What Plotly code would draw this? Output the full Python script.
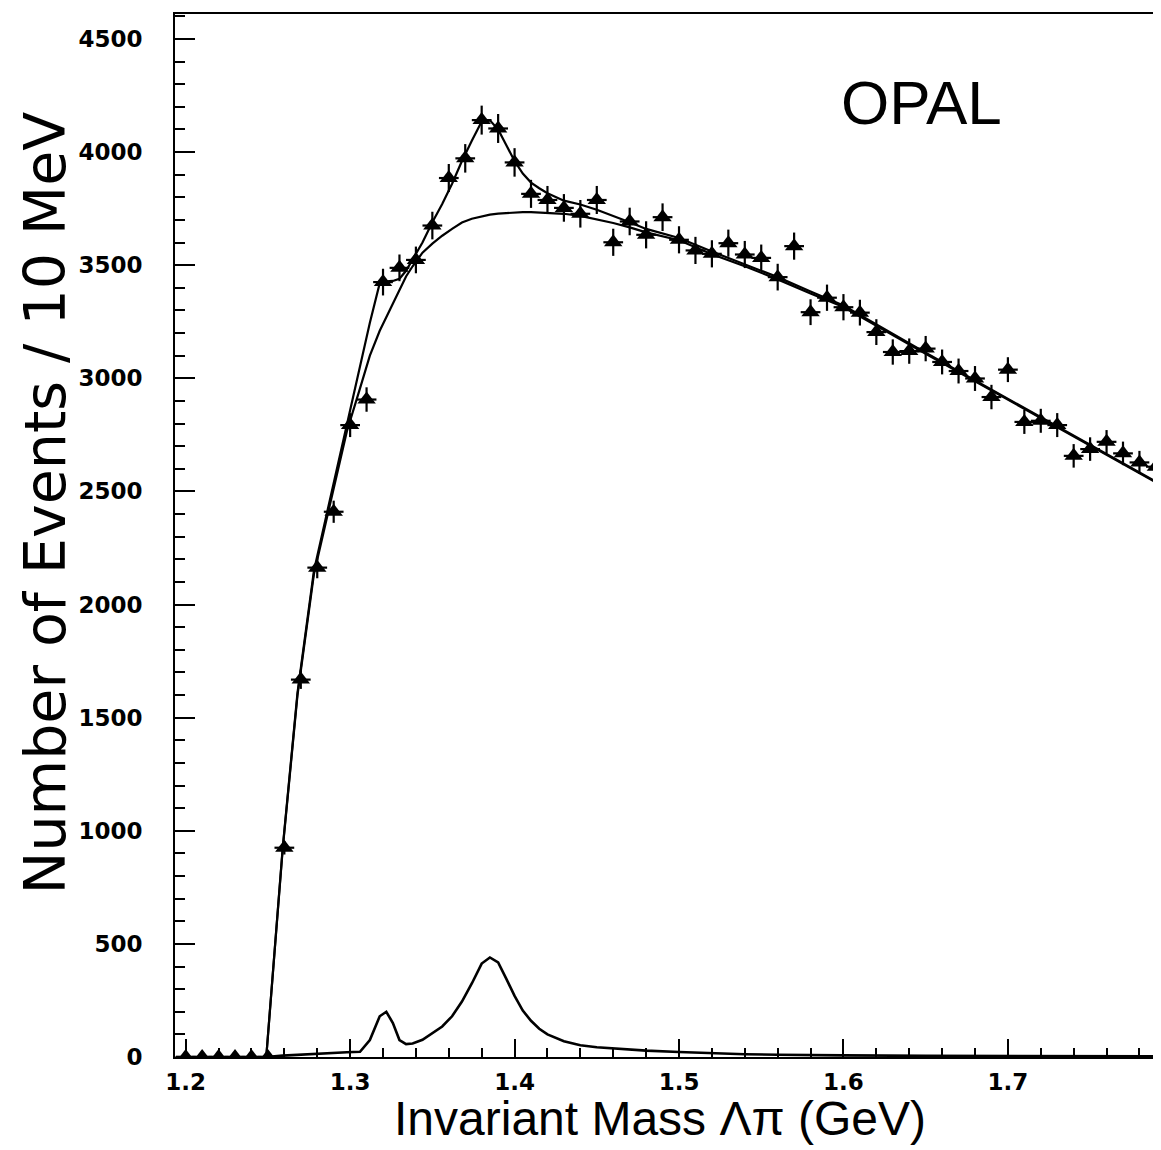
import plotly.graph_objects as go

# measured spectrum (bin centres, events / 10 MeV)
mass = [1.20, 1.21, 1.22, 1.23, 1.24, 1.25, 1.26, 1.27, 1.28, 1.29,
        1.30, 1.31, 1.32, 1.33, 1.34, 1.35, 1.36, 1.37, 1.38, 1.39,
        1.40, 1.41, 1.42, 1.43, 1.44, 1.45, 1.46, 1.47, 1.48, 1.49,
        1.50, 1.51, 1.52, 1.53, 1.54, 1.55, 1.56, 1.57, 1.58, 1.59,
        1.60, 1.61, 1.62, 1.63, 1.64, 1.65, 1.66, 1.67, 1.68, 1.69,
        1.70, 1.71, 1.72, 1.73, 1.74, 1.75, 1.76, 1.77, 1.78, 1.79]
events = [0, 0, 0, 0, 0, 0, 925, 1668, 2163, 2410,
          2793, 2906, 3425, 3488, 3523, 3675, 3885, 3972, 4141, 4104,
          3954, 3815, 3788, 3753, 3727, 3788, 3601, 3693, 3634, 3712,
          3612, 3565, 3550, 3597, 3547, 3532, 3447, 3584, 3292, 3356,
          3314, 3290, 3204, 3116, 3120, 3131, 3072, 3032, 2999, 2917,
          3038, 2807, 2812, 2793, 2657, 2687, 2719, 2668, 2628, 2609]
errors = [0, 0, 0, 0, 0, 0, 30, 41, 47, 49,
          53, 54, 59, 59, 59, 61, 62, 63, 64, 64,
          63, 62, 62, 61, 61, 62, 60, 61, 60, 61,
          60, 60, 60, 60, 60, 59, 59, 60, 57, 58,
          58, 57, 57, 56, 56, 56, 55, 55, 55, 54,
          55, 53, 53, 53, 52, 52, 52, 52, 51, 51]

# fit curves
curve_x = [1.194, 1.249, 1.259, 1.268, 1.278, 1.288, 1.298, 1.306, 1.312, 1.318,
           1.322, 1.326, 1.330, 1.334, 1.338, 1.344, 1.350, 1.356, 1.362, 1.368,
           1.374, 1.380, 1.385, 1.390, 1.395, 1.400, 1.405, 1.410, 1.415, 1.420,
           1.430, 1.440, 1.450, 1.460, 1.470, 1.480, 1.500, 1.520, 1.540, 1.560,
           1.580, 1.600, 1.650, 1.700, 1.750, 1.790]
total_fit = [0, 0, 925, 1610, 2150, 2470, 2790, 3060, 3245, 3420,
             3428, 3430, 3440, 3475, 3525, 3600, 3690, 3770, 3860, 3960,
             4050, 4135, 4140, 4100, 4030, 3960, 3905, 3865, 3840, 3818,
             3785, 3768, 3745, 3718, 3690, 3660, 3620, 3560, 3505, 3447,
             3383, 3322, 3113, 2909, 2703, 2543]
background_fit = [0, 0, 920, 1600, 2135, 2455, 2765, 2955, 3100, 3210,
                  3270, 3330, 3395, 3450, 3495, 3555, 3595, 3630, 3660, 3688,
                  3705, 3716, 3723, 3728, 3731, 3733, 3734, 3734, 3733, 3731,
                  3727, 3718, 3703, 3686, 3667, 3645, 3610, 3548, 3495, 3437,
                  3375, 3315, 3108, 2905, 2700, 2540]
signal_fit = [0, 0, 6, 10, 14, 18, 21, 23, 75, 180,
              200, 150, 75, 57, 60, 76, 105, 135, 180, 245,
              325, 413, 440, 418, 345, 270, 205, 160, 125, 100,
              70, 52, 43, 37, 32, 28, 22, 16, 12, 10,
              8, 7, 5, 4, 3, 3]

black = '#000000'
fig = go.Figure()

for ys, w in [(background_fit, 2.2), (total_fit, 2.2), (signal_fit, 2.6)]:
    fig.add_trace(go.Scatter(x=curve_x, y=ys, mode='lines',
                             line=dict(color=black, width=w), hoverinfo='skip'))

fig.add_trace(go.Scatter(
    x=mass, y=events, mode='markers',
    marker=dict(symbol='triangle-up', size=16, color=black),
    error_y=dict(type='data', array=errors, color=black, thickness=2.2, width=0),
    error_x=dict(type='constant', value=0.006, color=black, thickness=2.2, width=0),
))

# the page body adds an 8px margin, so the figure is 8px smaller each way
fig.update_layout(
    width=1153, height=1142,
    margin=dict(l=167, r=1, t=6, b=93),
    plot_bgcolor='white', paper_bgcolor='white',
    showlegend=False,
    font=dict(family='DejaVu Sans', color=black),
    annotations=[
        dict(text='OPAL', x=0.758, y=0.915, xref='paper', yref='paper',
             xanchor='center', yanchor='middle', showarrow=False,
             font=dict(family='Liberation Sans', size=62, color=black)),
        dict(text='Number of Events / 10 MeV', textangle=-90,
             x=-0.132, y=0.531, xref='paper', yref='paper',
             xanchor='center', yanchor='middle', showarrow=False,
             font=dict(family='DejaVu Sans', size=57, color=black)),
        dict(text='Invariant Mass Λπ (GeV)',
             x=0.492, y=-0.0585, xref='paper', yref='paper',
             xanchor='center', yanchor='middle', showarrow=False,
             font=dict(family='Liberation Sans', size=48, color=black)),
    ],
)

fig.update_xaxes(
    range=[1.1935, 1.7925], dtick=0.1, tick0=1.2, tickformat='.1f',
    automargin=False,
    showgrid=False, zeroline=False, showline=True, linecolor=black, linewidth=2,
    mirror=True, ticks='inside', ticklen=18, tickwidth=2, tickcolor=black,
    minor=dict(dtick=0.02, ticks='inside', ticklen=9, tickwidth=1.5, tickcolor=black),
    ticklabelstandoff=3,
    tickfont=dict(family='DejaVu Sans', size=23, color=black, weight='bold'),
)
fig.update_yaxes(
    range=[0, 4610], dtick=500, tick0=0,
    automargin=False,
    showgrid=False, zeroline=False, showline=True, linecolor=black, linewidth=2,
    mirror=True, ticks='inside', ticklen=20, tickwidth=2, tickcolor=black,
    minor=dict(dtick=100, ticks='inside', ticklen=10, tickwidth=1.5, tickcolor=black),
    ticklabelstandoff=26,
    tickfont=dict(family='DejaVu Sans', size=23, color=black, weight='bold'),
)

fig.write_html('out.html')
